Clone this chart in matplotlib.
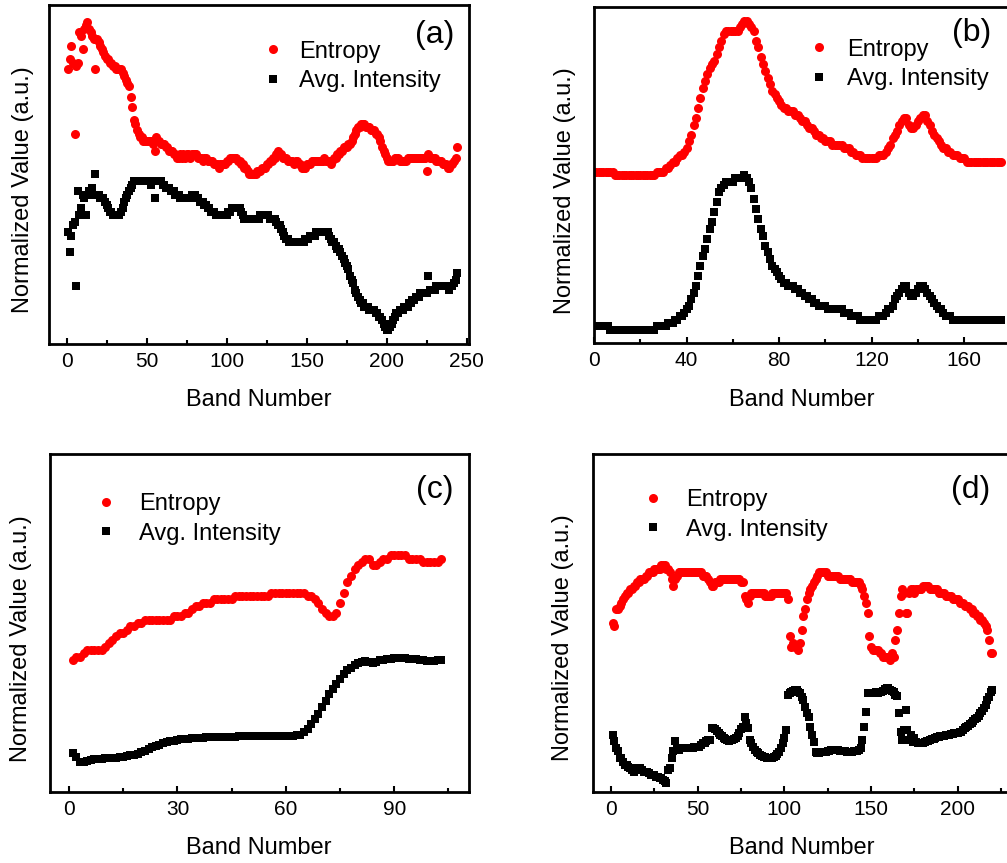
import numpy as np
import matplotlib
matplotlib.use("Agg")
import matplotlib.pyplot as plt
from matplotlib.ticker import MultipleLocator

plt.rcParams['font.family'] = ['Liberation Sans', 'DejaVu Sans']

# Normalized values (arbitrary units, 0-100), one value per band.
ent_a = [81, 84, 88, 83, 62, 82, 83, 92, 91, 87,
         93, 94, 95, 93, 92, 91, 90, 81, 90, 89,
         88, 87, 86, 85, 84, 84, 83, 83, 82, 82,
         81, 81, 81, 81, 80, 79, 78, 77, 76, 73,
         70, 66, 65, 63, 62, 61, 61, 60, 60, 60,
         60, 60, 60, 59, 57, 61, 60, 60, 59, 59,
         59, 58, 58, 57, 57, 57, 56, 56, 55, 55,
         56, 55, 56, 55, 56, 56, 55, 56, 56, 56,
         56, 55, 55, 55, 54, 55, 55, 54, 54, 54,
         54, 53, 53, 53, 52, 53, 53, 53, 53, 54,
         54, 55, 55, 55, 55, 55, 54, 54, 53, 53,
         52, 52, 51, 50, 50, 50, 50, 50, 51, 51,
         51, 52, 52, 52, 53, 53, 54, 54, 55, 55,
         56, 57, 56, 56, 55, 55, 55, 54, 54, 54,
         54, 53, 54, 54, 53, 53, 52, 52, 52, 53,
         53, 53, 54, 54, 54, 54, 54, 54, 54, 54,
         55, 54, 54, 54, 53, 54, 55, 55, 56, 56,
         57, 57, 58, 58, 58, 59, 59, 60, 61, 62,
         63, 64, 64, 65, 65, 65, 64, 64, 64, 63,
         63, 63, 62, 62, 61, 60, 58, 57, 56, 55,
         54, 54, 54, 54, 55, 55, 55, 54, 54, 54,
         54, 54, 55, 55, 55, 55, 55, 55, 55, 55,
         55, 55, 55, 55, 51, 56, 55, 55, 55, 55,
         54, 54, 54, 54, 53, 53, 53, 52, 52, 53,
         53, 54, 55, 58]
avg_a = [33, 27, 32, 35, 36, 17, 45, 38, 40, 44,
         43, 38, 44, 45, 45, 46, 44, 50, 44, 44,
         43, 43, 43, 42, 41, 40, 39, 39, 38, 38,
         38, 38, 38, 39, 40, 42, 43, 44, 45, 46,
         47, 48, 48, 48, 48, 48, 48, 48, 48, 48,
         48, 48, 47, 48, 43, 48, 48, 48, 48, 47,
         47, 46, 46, 46, 45, 45, 45, 44, 44, 44,
         43, 43, 43, 43, 43, 43, 43, 44, 44, 44,
         43, 43, 42, 42, 42, 41, 41, 40, 40, 39,
         39, 39, 38, 38, 38, 38, 38, 38, 38, 38,
         39, 39, 40, 40, 40, 40, 40, 40, 39, 38,
         37, 37, 37, 37, 37, 37, 37, 37, 37, 37,
         38, 38, 38, 38, 38, 38, 37, 37, 37, 37,
         36, 35, 35, 34, 33, 32, 31, 31, 30, 30,
         30, 30, 30, 30, 30, 30, 30, 30, 31, 31,
         31, 32, 32, 32, 32, 33, 33, 33, 33, 33,
         33, 33, 33, 32, 31, 30, 30, 29, 28, 28,
         27, 26, 25, 24, 23, 22, 20, 19, 18, 16,
         15, 14, 13, 12, 12, 11, 11, 11, 10, 10,
         10, 10, 9, 9, 8, 8, 7, 6, 5, 4,
         4, 5, 6, 7, 8, 9, 9, 10, 10, 10,
         11, 11, 11, 12, 12, 13, 13, 14, 14, 14,
         15, 15, 15, 15, 15, 20, 16, 16, 16, 16,
         17, 17, 17, 17, 17, 17, 17, 17, 16, 17,
         17, 18, 19, 21]

ent_b = [51, 51, 51, 51, 51, 51, 51, 51, 50, 50,
         50, 50, 50, 50, 50, 50, 50, 50, 50, 50,
         50, 50, 50, 50, 50, 50, 51, 51, 51, 51,
         52, 52, 53, 54, 54, 55, 56, 56, 57, 58,
         60, 62, 65, 67, 70, 73, 76, 78, 80, 82,
         83, 84, 86, 88, 90, 92, 93, 93, 93, 93,
         93, 93, 94, 95, 96, 96, 95, 94, 93, 90,
         88, 85, 83, 81, 79, 77, 75, 74, 73, 72,
         71, 70, 70, 69, 69, 69, 68, 68, 67, 66,
         66, 65, 64, 64, 63, 62, 62, 61, 61, 60,
         60, 60, 59, 59, 59, 59, 59, 58, 58, 58,
         57, 57, 56, 56, 56, 55, 55, 55, 55, 55,
         55, 55, 56, 56, 56, 57, 58, 59, 61, 62,
         63, 65, 66, 67, 67, 65, 64, 64, 65, 66,
         67, 68, 68, 66, 65, 63, 62, 61, 60, 59,
         58, 58, 57, 57, 56, 56, 56, 55, 55, 55,
         54, 54, 54, 54, 54, 54, 54, 54, 54, 54,
         54, 54, 54, 54, 54, 54]
avg_b = [5, 5, 5, 5, 5, 5, 4, 4, 4, 4,
         4, 4, 4, 4, 4, 4, 4, 4, 4, 4,
         4, 4, 4, 4, 4, 4, 5, 5, 5, 5,
         5, 6, 6, 6, 7, 7, 8, 8, 9, 10,
         11, 13, 15, 17, 20, 23, 26, 28, 31, 34,
         36, 39, 42, 45, 46, 47, 48, 48, 48, 48,
         49, 49, 49, 49, 50, 49, 48, 46, 43, 40,
         37, 34, 32, 29, 27, 25, 23, 22, 21, 20,
         19, 18, 18, 17, 17, 17, 16, 16, 15, 15,
         14, 14, 13, 13, 12, 12, 11, 11, 11, 11,
         10, 10, 10, 10, 10, 10, 10, 9, 9, 9,
         8, 8, 8, 8, 7, 7, 7, 7, 7, 7,
         7, 7, 8, 8, 8, 9, 10, 10, 11, 13,
         14, 15, 16, 17, 17, 15, 14, 14, 15, 16,
         17, 17, 16, 15, 14, 13, 12, 11, 10, 10,
         9, 8, 8, 8, 7, 7, 7, 7, 7, 7,
         7, 7, 7, 7, 7, 7, 7, 7, 7, 7,
         7, 7, 7, 7, 7, 7]

ent_c = [39, 40, 40, 41, 42, 42, 42, 42, 42, 43,
         44, 45, 46, 47, 47, 48, 49, 49, 50, 50,
         51, 51, 51, 51, 51, 51, 51, 51, 52, 52,
         52, 53, 53, 54, 55, 55, 56, 56, 56, 57,
         57, 57, 57, 57, 57, 58, 58, 58, 58, 58,
         58, 58, 58, 58, 58, 59, 59, 59, 59, 59,
         59, 59, 59, 59, 59, 58, 58, 57, 56, 54,
         53, 52, 52, 53, 56, 59, 62, 64, 66, 67,
         68, 69, 69, 67, 67, 68, 69, 69, 70, 70,
         70, 70, 70, 69, 69, 69, 69, 68, 68, 68,
         68, 68, 69]
avg_c = [11.4, 10.4, 9.0, 9.0, 9.3, 9.5, 9.7, 9.8, 9.9, 10.0,
         10.0, 10.0, 10.1, 10.3, 10.4, 10.6, 10.8, 11.0, 11.3, 11.7,
         12.2, 12.7, 13.2, 13.6, 14.0, 14.4, 14.7, 15.0, 15.2, 15.4,
         15.6, 15.7, 15.8, 15.9, 16.0, 16.1, 16.1, 16.2, 16.2, 16.2,
         16.3, 16.3, 16.3, 16.4, 16.4, 16.4, 16.5, 16.5, 16.5, 16.6,
         16.6, 16.6, 16.6, 16.6, 16.6, 16.6, 16.5, 16.5, 16.5, 16.5,
         16.6, 16.6, 16.8, 17.0, 17.6, 18.7, 20.0, 21.5, 23.0, 25.0,
         27.0, 29.0, 30.5, 32.0, 33.5, 35.0, 36.0, 36.8, 37.5, 38.2,
         38.5, 38.6, 38.5, 38.2, 38.4, 38.9, 39.1, 39.3, 39.4, 39.5,
         39.6, 39.6, 39.5, 39.4, 39.3, 39.2, 39.0, 38.9, 38.8, 38.6,
         38.7, 38.9, 39.1]

ent_d = [50, 49, 54, 54, 55, 56, 57, 58, 59, 59,
         60, 60, 61, 61, 62, 62, 63, 63, 63, 64,
         64, 65, 65, 65, 66, 66, 66, 66, 67, 67,
         67, 66, 66, 65, 63, 61, 63, 64, 65, 65,
         65, 65, 65, 65, 65, 65, 65, 65, 65, 65,
         65, 65, 64, 64, 64, 63, 62, 61, 61, 62,
         62, 62, 63, 63, 63, 63, 63, 63, 63, 63,
         63, 63, 63, 63, 62, 62, 58, 57, 56, 58,
         59, 59, 59, 59, 59, 59, 59, 59, 58, 58,
         58, 58, 59, 59, 59, 59, 59, 59, 59, 59,
         59, 57, 46, 43, 44, 43, 43, 42, 44, 48,
         52, 54, 57, 59, 60, 61, 62, 63, 64, 65,
         65, 65, 65, 65, 64, 64, 64, 64, 64, 64,
         64, 63, 63, 63, 63, 63, 63, 63, 62, 62,
         62, 62, 62, 61, 60, 58, 56, 53, 46, 43,
         42, 42, 42, 42, 41, 41, 40, 40, 40, 40,
         39, 41, 40, 45, 48, 53, 58, 60, 59, 53,
         53, 59, 60, 60, 59, 60, 60, 60, 60, 61,
         61, 61, 61, 60, 60, 60, 60, 60, 59, 59,
         59, 59, 58, 58, 58, 58, 57, 57, 57, 57,
         56, 56, 56, 55, 55, 55, 54, 54, 53, 53,
         52, 52, 51, 51, 50, 49, 48, 45, 41, 41]
avg_d = [17, 15, 13, 12, 10, 10, 9, 8, 8, 7.5,
         7, 6.5, 6, 6.5, 7, 7, 7, 6.5, 6, 6,
         6, 5.5, 5, 5, 5, 4.5, 4.5, 4, 4, 3.6,
         3.2, 2.6, 6.5, 7, 10, 12, 15, 13, 12.4, 13,
         13, 13, 13, 13, 13, 13, 13, 13.2, 13.4, 13.4,
         13.4, 14, 14.4, 14.4, 15, 15.4, 15.4, 18.8, 18.8, 18.5,
         18, 17.5, 17, 16.5, 16, 15.6, 15.4, 15.2, 15.3, 15.5,
         15.7, 16, 16.6, 17.4, 18.5, 19.3, 22.3, 20.5, 19, 15.4,
         14.4, 13.4, 12.5, 11.8, 11.4, 11, 10.6, 10.4, 10.2, 10,
         10, 10, 10, 10.2, 10.6, 11.2, 11.9, 13, 14.4, 16,
         18.3, 28.7, 29.2, 29.7, 30, 30.2, 30.2, 29.7, 29.2, 28,
         27.2, 25.2, 23.5, 22.3, 19.3, 17, 14.9, 11.9, 11.4, 11.6,
         11.8, 11.9, 11.9, 11.9, 12, 12.2, 12.3, 12.4, 12.4, 12.4,
         12.3, 12.2, 12.1, 12, 12, 11.9, 11.9, 11.9, 11.9, 12,
         12, 12, 12.3, 12.9, 15.4, 19.3, 23.8, 29.2, 29.2, 29.4,
         29.4, 29.4, 29.5, 29.4, 29.5, 29.7, 30, 30.5, 30.7, 30.7,
         30.2, 29.8, 29.5, 28.7, 28.5, 23.3, 17.8, 15.4, 18.3, 24.3,
         18.3, 15.4, 16.9, 14.9, 16, 14.9, 14.6, 14.4, 14.4, 14.6,
         14.8, 15, 15.2, 15.4, 15.6, 15.8, 16, 16.2, 16.4, 16.5,
         16.6, 16.7, 16.8, 16.9, 17, 17.1, 17.2, 17.3, 17.4, 17.5,
         17.6, 17.8, 18.3, 18.8, 19.2, 19.5, 20.1, 20.5, 21, 21.5,
         22, 22.6, 23.3, 24, 24.8, 25.7, 27.2, 28.2, 29.7, 30.2]

labels = ['Entropy', 'Avg. Intensity']


# One panel: two scatter series, inward bottom ticks, no y ticks
def plot_panel(ax, ent, avg, xlim, major, minor, tag, tag_xy, leg_xy, leg_pad, ylab_xy, xlab_xy):
    bands = np.arange(1, len(ent) + 1)
    ax.plot(bands, ent, 'o', color='#ff0000', markersize=6.5, mew=0, label=labels[0])
    ax.plot(bands, avg, 's', color='black', markersize=5.5, mew=0, label=labels[1])
    ax.set_xlim(*xlim)
    ax.set_ylim(0, 100)
    ax.xaxis.set_major_locator(MultipleLocator(major))
    ax.xaxis.set_minor_locator(MultipleLocator(minor))
    ax.tick_params(axis='x', which='both', direction='in', top=False,
                   labelsize=15, pad=6, width=1.5)
    ax.tick_params(axis='x', which='major', length=4)
    ax.tick_params(axis='x', which='minor', length=3)
    ax.set_yticks([])
    for s in ax.spines.values():
        s.set_linewidth(2)
    ax.set_xlabel('Band Number', fontsize=17)
    ax.set_ylabel('Normalized Value (a.u.)', fontsize=17)
    ax.xaxis.set_label_coords(*xlab_xy)
    ax.yaxis.set_label_coords(*ylab_xy)
    ax.text(tag_xy[0], tag_xy[1], tag, transform=ax.transAxes, fontsize=23,
            ha='center', va='center')
    ax.legend(loc='upper left', bbox_to_anchor=leg_xy, frameon=False, fontsize=17,
              handlelength=1, handletextpad=leg_pad, borderpad=0, borderaxespad=0,
              labelspacing=0.32, numpoints=1)


def main():
    fig = plt.figure(figsize=(10.07, 8.63), dpi=100)
    ax_a = fig.add_axes([0.0487, 0.6014, 0.4171, 0.3928])
    ax_b = fig.add_axes([0.5899, 0.6025, 0.4171, 0.3893])  # runs off the right edge
    ax_c = fig.add_axes([0.0497, 0.0823, 0.4161, 0.3917])
    ax_d = fig.add_axes([0.5886, 0.0823, 0.4171, 0.3917])  # runs off the right edge

    plot_panel(ax_a, ent_a, avg_a, (-11, 251.4), 50, 25, '(a)', (0.919, 0.911),
               (0.505, 0.895), 0.6, (-0.036, 0.454), (0.5, -0.133))
    plot_panel(ax_b, ent_b, avg_b, (0, 181.5), 40, 20, '(b)', (0.9, 0.923),
               (0.508, 0.906), 0.69, (-0.043, 0.455), (0.495, -0.137))
    plot_panel(ax_c, ent_c, avg_c, (-5.26, 110.7), 30, 15, '(c)', (0.919, 0.893),
               (0.105, 0.884), 0.9, (-0.043, 0.453), (0.499, -0.133))
    plot_panel(ax_d, ent_d, avg_d, (-10.55, 231.7), 50, 25, '(d)', (0.9, 0.893),
               (0.115, 0.896), 0.9, (-0.045, 0.456), (0.498, -0.133))

    fig.savefig('out.png', dpi=100)


if __name__ == "__main__":
    main()
